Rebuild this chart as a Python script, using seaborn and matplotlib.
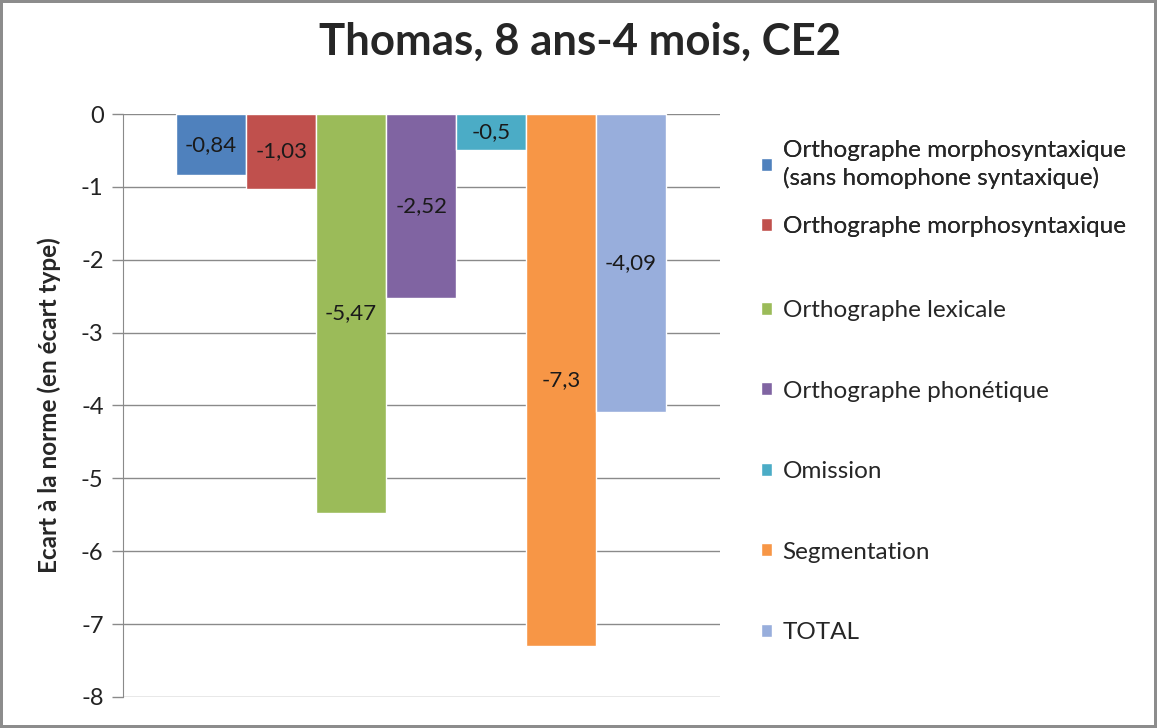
import matplotlib.pyplot as plt
import seaborn as sns
import pandas as pd

# data
categories = [
    "Orthographe morphosyntaxique\n(sans homophone syntaxique)",
    "Orthographe morphosyntaxique",
    "Orthographe lexicale",
    "Orthographe phonétique",
    "Omission",
    "Segmentation",
    "TOTAL",
]
values = [-0.84, -1.03, -5.47, -2.52, -0.5, -7.3, -4.09]
colors = ["#4F81BD", "#C0504D", "#9BBB59", "#8064A2", "#4BACC6", "#F79646", "#98AEDC"]
y_ticks = [0, -1, -2, -3, -4, -5, -6, -7, -8]

df = pd.DataFrame({"categorie": categories, "ecart": values})

sns.set_style("white")
plt.rcParams["font.family"] = ["Lato", "DejaVu Sans"]

fig = plt.figure(figsize=(11.57, 7.28), dpi=100)
fig.patch.set_edgecolor("#8c8c8c")
fig.patch.set_linewidth(3)
ax = fig.add_axes([0.1063, 0.0426, 0.516, 0.8008])

sns.barplot(data=df, x="categorie", y="ecart", hue="categorie", order=categories,
            hue_order=categories, palette=colors, width=1, legend=False,
            saturation=1, ax=ax)

# data labels in the middle of the bars, french decimal comma
for cont in ax.containers:
    ax.bar_label(cont, fmt=lambda v: f"{v:g}".replace(".", ","), label_type="center",
                 fontsize=16, color="#1a1a1a")

ax.set_ylim(-8, 0)
ax.set_xlim(-1.26, 7.27)
ax.set_yticks(y_ticks)
ax.set_yticklabels([str(t) for t in y_ticks], fontsize=17, color="#222222")
ax.set_xticks([])
ax.set_xlabel("")
ax.set_ylabel("Ecart à la norme (en écart type)", fontsize=17.5, fontweight="bold", labelpad=14)
ax.yaxis.grid(True, color="#8a8a8a", linewidth=1)
ax.set_axisbelow(True)
ax.tick_params(axis="y", left=True, length=8, width=1, color="#8a8a8a", pad=6)
for side in ["top", "right", "bottom"]:
    ax.spines[side].set_visible(False)
ax.spines["left"].set_color("#8a8a8a")

fig.suptitle("Thomas, 8 ans-4 mois, CE2", fontsize=31.5, fontweight="bold", x=0.501, y=0.97)

handles = [cont.patches[0] for cont in ax.containers if len(cont.patches)]
leg_style = dict(loc="upper left", frameon=False, fontsize=17.5, handlelength=0.45,
                 handleheight=0.45, handletextpad=0.45)
leg1 = fig.legend(handles[:2], categories[:2], bbox_to_anchor=(0.6387, 0.838),
                  labelspacing=1.1, **leg_style)
for t in leg1.get_texts():
    t.set_linespacing(1.35)
fig.add_artist(leg1)
fig.legend(handles[2:], categories[2:], bbox_to_anchor=(0.6387, 0.618),
           labelspacing=2.45, **leg_style)

fig.savefig("out.png", dpi=100, edgecolor=fig.get_edgecolor())
